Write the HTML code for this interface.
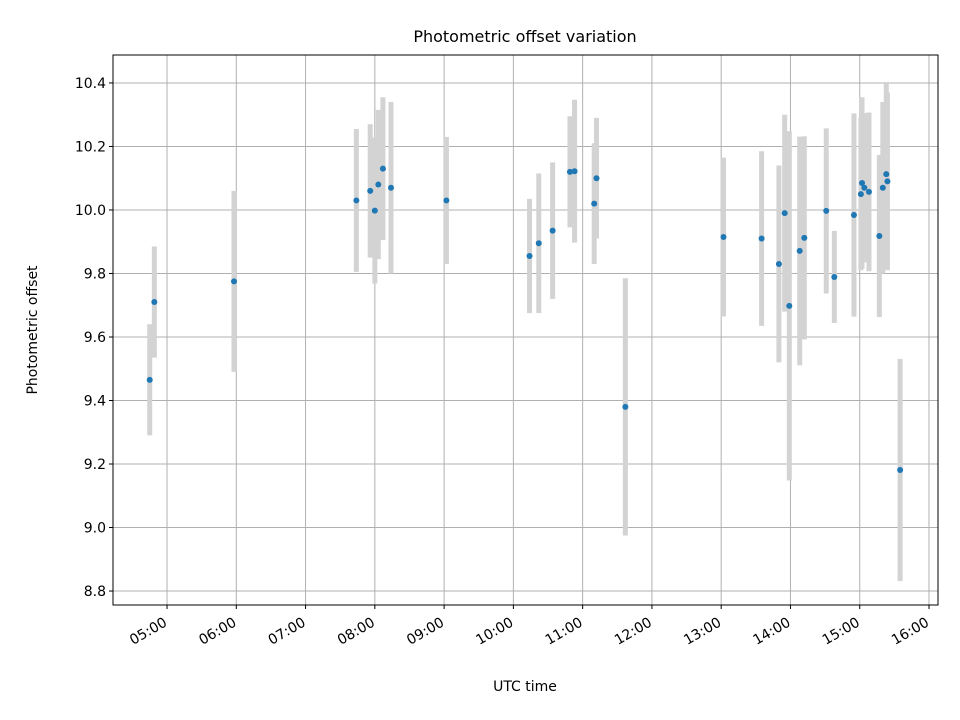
<!DOCTYPE html>
<html><head><meta charset="utf-8"><style>
body{margin:0;background:#fff}
svg{display:block;font-family:"DejaVu Sans","Liberation Sans",sans-serif}
</style></head><body>
<svg id="chart" width="960" height="720">
<rect width="960" height="720" fill="#fff"/>
<g id="grid"></g>
<g id="bars"></g>
<g id="pts"></g>
<rect x="113" y="55" width="825" height="550" fill="none" stroke="#000" stroke-width="1"/>
<g id="ticks"></g>
<text x="525" y="42" text-anchor="middle" font-size="16">Photometric offset variation</text>
<text x="525" y="691" text-anchor="middle" font-size="14">UTC time</text>
<text transform="translate(37,330) rotate(-90)" text-anchor="middle" font-size="14">Photometric offset</text>
</svg>
<script>
const times=["04:45","04:49","05:58","07:44","07:56","08:00","08:03","08:07","08:14","09:02","10:14","10:22","10:34","10:49","10:53","11:10","11:12","11:37","13:02","13:35","13:50","13:55","13:59","14:08","14:12","14:31","14:38","14:55","15:02","15:04","15:01","15:08","15:17","15:20","15:23","15:24","15:35"];
const offsets=[9.465,9.71,9.775,10.03,10.06,9.998,10.08,10.13,10.07,10.03,9.855,9.895,9.935,10.12,10.122,10.02,10.1,9.38,9.915,9.91,9.83,9.99,9.698,9.871,9.912,9.997,9.789,9.984,10.085,10.07,10.05,10.057,9.918,10.07,10.113,10.09,9.181];
const errors=[0.175,0.175,0.285,0.225,0.21,0.23,0.235,0.225,0.27,0.2,0.18,0.22,0.215,0.175,0.225,0.19,0.19,0.405,0.25,0.275,0.31,0.31,0.55,0.36,0.32,0.26,0.145,0.32,0.27,0.235,0.24,0.25,0.255,0.27,0.29,0.28,0.35];
const xTickLabels=["05:00","06:00","07:00","08:00","09:00","10:00","11:00","12:00","13:00","14:00","15:00","16:00"];
const yTickLabels=["8.8","9.0","9.2","9.4","9.6","9.8","10.0","10.2","10.4"];
const NS="http://www.w3.org/2000/svg";
const L=113,R=938,T=55,B=605;
const xMin=4*60+13.2,xMax=16*60+7.8,yMin=8.756,yMax=10.488;
function mins(s){const p=s.split(":");return +p[0]*60+ +p[1];}
function X(m){return L+(m-xMin)/(xMax-xMin)*(R-L);}
function Y(v){return B-(v-yMin)/(yMax-yMin)*(B-T);}
function mk(tag,attrs,parent){const e=document.createElementNS(NS,tag);for(const k in attrs)e.setAttribute(k,attrs[k]);parent.appendChild(e);return e;}
const grid=document.getElementById("grid"),ticks=document.getElementById("ticks");
xTickLabels.forEach(l=>{const x=X(mins(l));
 const g=mk("line",{x1:x,x2:x,y1:T,y2:B,stroke:"#b0b0b0","stroke-width":1},grid);
 
 
 const t=mk("line",{x1:x,x2:x,y1:B,y2:B+4,stroke:"#000"},ticks);
 
 
 const ax=x+1,ay=B+20;
 const tx=mk("text",{x:ax,y:ay,"text-anchor":"end","font-size":14,transform:`rotate(-30 ${ax} ${ay})`},ticks);
 tx.textContent=l;
 
 
});
yTickLabels.forEach(l=>{const y=Y(+l);
 const g=mk("line",{x1:L,x2:R,y1:y,y2:y,stroke:"#b0b0b0","stroke-width":1},grid);
 
 
 const t=mk("line",{x1:L-4,x2:L,y1:y,y2:y,stroke:"#000"},ticks);
 
 
 const tx=mk("text",{x:L-7,y:y+5,"text-anchor":"end","font-size":14},ticks);
 tx.textContent=l;
 
 
});
const bars=document.getElementById("bars"),pts=document.getElementById("pts");
times.forEach((tm,i)=>{const x=X(mins(tm));
 const b=mk("line",{x1:x,x2:x,y1:Y(offsets[i]+errors[i]),y2:Y(offsets[i]-errors[i]),stroke:"#d3d3d3","stroke-width":5},bars);
 
 
 const c=mk("circle",{cx:x,cy:Y(offsets[i]),r:3,fill:"#1f77b4"},pts);
 
 
});
</script>
</body></html>
